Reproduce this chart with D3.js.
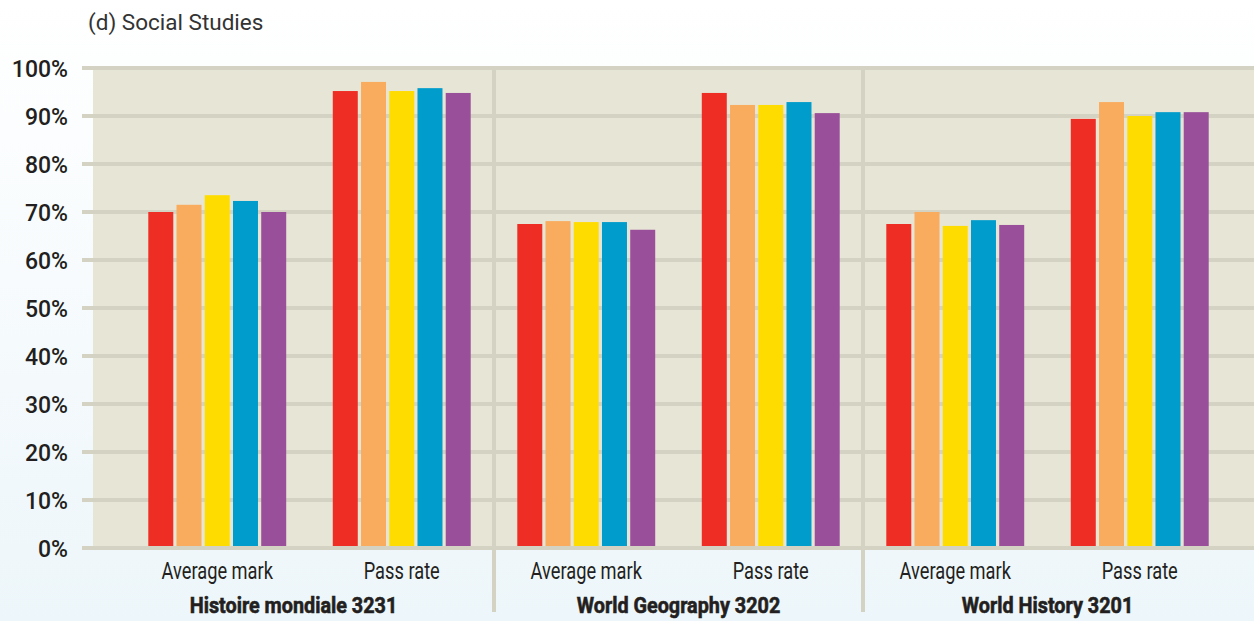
<!DOCTYPE html>
<html>
<head>
<meta charset="utf-8">
<script src="https://cdn.jsdelivr.net/npm/d3@7/dist/d3.min.js"></script>
<style>
  html, body { margin: 0; padding: 0; }
  body { width: 1254px; height: 621px; overflow: hidden; }
  svg { display: block; }
</style>
</head>
<body>
<svg id="chart" width="1254" height="621"></svg>
<script>
// ---- data ----
const title = "(d) Social Studies";
const groups = ["Histoire mondiale 3231", "World Geography 3202", "World History 3201"];
const measures = ["Average mark", "Pass rate"];
const seriesKeys = ["s1", "s2", "s3", "s4", "s5"];
const seriesColors = ["#ee2e24", "#f9ac5e", "#ffdc00", "#009ccb", "#9a4f9b"];
const histoireAvg  = [70.0, 71.5, 73.5, 72.3, 70.0];
const histoirePass = [95.2, 97.1, 95.2, 95.8, 94.8];
const geoAvg       = [67.5, 68.1, 67.9, 67.9, 66.3];
const geoPass      = [94.8, 92.3, 92.3, 92.9, 90.6];
const historyAvg   = [67.5, 70.0, 67.1, 68.3, 67.3];
const historyPass  = [89.4, 92.9, 90.0, 90.8, 90.8];
const yTicks = [0, 10, 20, 30, 40, 50, 60, 70, 80, 90, 100];

const values = [
  [histoireAvg, histoirePass],
  [geoAvg, geoPass],
  [historyAvg, historyPass]
];

// ---- layout ----
const W = 1254, H = 621;
const plotLeft = 93, plotRight = 1254, plotTop = 68, plotBottom = 548;
const svg = d3.select("#chart");

const defs = svg.append("defs");
const grad = defs.append("linearGradient").attr("id", "bg").attr("x1", 0).attr("y1", 0).attr("x2", 0).attr("y2", 1);
grad.append("stop").attr("offset", "0%").attr("stop-color", "#ffffff");
grad.append("stop").attr("offset", "100%").attr("stop-color", "#edf6fa");
svg.append("rect").attr("width", W).attr("height", H).attr("fill", "url(#bg)");

const y = d3.scaleLinear().domain([0, 100]).range([plotBottom, plotTop]);
const xGroup = d3.scaleBand().domain(groups).range([125, 1232]);
const xMeasure = d3.scaleBand().domain(measures).range([0, xGroup.bandwidth()])
  .paddingInner(0.2525).paddingOuter(0.12625);
const xSeries = d3.scaleBand().domain(seriesKeys).range([0, xMeasure.bandwidth()])
  .paddingInner(0.115).paddingOuter(0);

svg.append("rect").attr("x", plotLeft).attr("y", plotTop)
  .attr("width", plotRight - plotLeft).attr("height", plotBottom - plotTop)
  .attr("fill", "#e7e5d5");

const gridColor = "#d4d2c3";
svg.append("g").selectAll("line").data(yTicks).join("line")
  .attr("x1", 82).attr("x2", plotRight)
  .attr("y1", d => y(d)).attr("y2", d => y(d))
  .attr("stroke", gridColor).attr("stroke-width", 4);

svg.append("g").selectAll("line").data(groups.slice(1)).join("line")
  .attr("x1", d => xGroup(d)).attr("x2", d => xGroup(d))
  .attr("y1", plotTop).attr("y2", 612)
  .attr("stroke", gridColor).attr("stroke-width", 4);

const gSel = svg.append("g").selectAll("g").data(groups).join("g")
  .attr("transform", d => `translate(${xGroup(d)},0)`);
const mSel = gSel.selectAll("g").data((g, gi) => measures.map((m, mi) => ({ m, vals: values[gi][mi] })))
  .join("g").attr("transform", d => `translate(${xMeasure(d.m)},0)`);
mSel.selectAll("rect").data(d => d.vals.map((v, i) => ({ key: seriesKeys[i], v, c: seriesColors[i] })))
  .join("rect")
  .attr("x", d => xSeries(d.key))
  .attr("width", xSeries.bandwidth())
  .attr("y", d => y(d.v))
  .attr("height", d => y(0) - y(d.v) - 2)
  .attr("fill", d => d.c);

// condensed look: shrink glyphs horizontally by a factor
function condense(sel, factor) {
  sel.each(function () {
    const len = this.getComputedTextLength();
    d3.select(this).attr("textLength", len * factor).attr("lengthAdjust", "spacingAndGlyphs");
  });
}

const font = "Roboto, 'Liberation Sans', sans-serif";
svg.append("g").selectAll("text").data(yTicks).join("text")
  .attr("x", 68).attr("y", d => y(d) + 8.5)
  .attr("text-anchor", "end")
  .attr("font-family", font)
  .attr("font-size", 23).attr("font-weight", 500)
  .attr("fill", "#231f20")
  .text(d => d + "%");

const mLabels = gSel.selectAll("text.m").data(measures).join("text").attr("class", "m")
  .attr("x", d => xMeasure(d) + xMeasure.bandwidth() / 2)
  .attr("y", 579)
  .attr("text-anchor", "middle")
  .attr("font-family", font).attr("font-size", 24)
  .attr("fill", "#231f20")
  .text(d => d);
condense(mLabels, 0.76);

const gLabels = svg.append("g").selectAll("text").data(groups).join("text")
  .attr("x", (d, i) => ((i === 0 ? plotLeft : xGroup(d)) + xGroup(d) + xGroup.bandwidth()) / 2)
  .attr("y", 613)
  .attr("text-anchor", "middle")
  .attr("font-family", font).attr("font-size", 22.5).attr("font-weight", "bold")
  .attr("stroke", "#231f20").attr("stroke-width", 0.6)
  .attr("fill", "#231f20")
  .text(d => d);
condense(gLabels, 0.88);

svg.append("text").attr("x", 88).attr("y", 30)
  .attr("font-family", font).attr("font-size", 22.5)
  .attr("fill", "#333333")
  .text(title);
</script>
</body>
</html>
